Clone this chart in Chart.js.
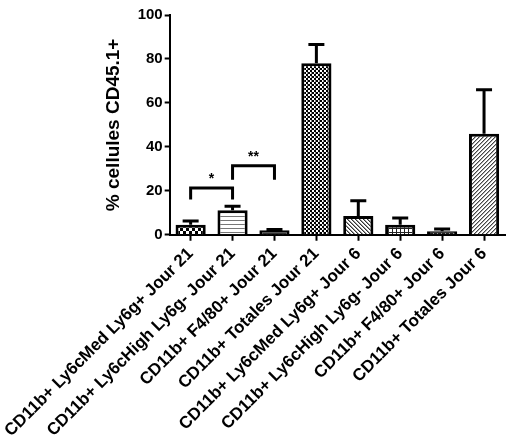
<!DOCTYPE html>
<html>
<head>
<meta charset="utf-8">
<script src="https://cdn.jsdelivr.net/npm/chart.js@4.4.0/dist/chart.umd.min.js"></script>
<style>
  html, body { margin: 0; padding: 0; background: #fff; }
  #wrap { width: 510px; height: 444px; }
</style>
</head>
<body>
<div id="wrap"><canvas id="chart" width="510" height="444"></canvas></div>
<script>
const labels = [
  'CD11b+ Ly6cMed Ly6g+ Jour 21',
  'CD11b+ Ly6cHigh Ly6g- Jour 21',
  'CD11b+ F4/80+ Jour 21',
  'CD11b+ Totales Jour 21',
  'CD11b+ Ly6cMed Ly6g+ Jour 6',
  'CD11b+ Ly6cHigh Ly6g- Jour 6',
  'CD11b+ F4/80+ Jour 6',
  'CD11b+ Totales Jour 6'
];
const means = [4.5, 11.2, 2.0, 78.0, 8.5, 4.6, 1.6, 46.0];
const errors = [1.8, 1.8, 0.4, 8.6, 7.0, 3.0, 1.0, 20.0];
const yTicks = [0, 20, 40, 60, 80, 100];

// significance brackets: from bar, to bar, text, top value, leg bottom value
const sigFrom = [0, 1];
const sigTo = [1, 2];
const sigText = ['*', '**'];
const sigTop = [21.3, 31.4];
const sigLeg = [16, 25];

const patternKinds = ['checker', 'hlines', 'dense', 'fineChecker', 'backDiag', 'grid', 'dark', 'fwdDiag'];

function makePattern(kind) {
  const c = document.createElement('canvas');
  const s = kind === 'checker' ? 6 : 4;
  c.width = s; c.height = s;
  const g = c.getContext('2d');
  g.fillStyle = '#fff';
  g.fillRect(0, 0, s, s);
  g.fillStyle = '#000';
  if (kind === 'checker') {
    g.fillRect(0, 0, 3, 3);
    g.fillRect(3, 3, 3, 3);
  } else if (kind === 'hlines') {
    g.fillStyle = '#777';
    g.fillRect(0, 0, 4, 1);
  } else if (kind === 'dense') {
    g.fillStyle = '#333';
    g.fillRect(0, 0, 4, 2);
    g.fillRect(0, 2, 2, 2);
  } else if (kind === 'fineChecker') {
    g.fillRect(0, 0, 2, 2);
    g.fillRect(2, 2, 2, 2);
    g.fillStyle = '#888';
    g.fillRect(3, 0, 1, 2);
  } else if (kind === 'backDiag') {
    g.fillStyle = '#333';
    for (let i = 0; i < 4; i++) g.fillRect(i, i, 1, 1);
    g.fillStyle = '#999';
    for (let i = 0; i < 4; i++) g.fillRect((i + 1) % 4, i, 1, 1);
  } else if (kind === 'grid') {
    g.fillStyle = '#222';
    g.fillRect(0, 0, 1, 4);
    g.fillRect(0, 0, 4, 1);
  } else if (kind === 'dark') {
    g.fillStyle = '#222';
    g.fillRect(0, 0, 4, 4);
    g.fillStyle = '#999';
    g.fillRect(1, 1, 1, 1);
  } else if (kind === 'fwdDiag') {
    g.fillStyle = '#444';
    for (let i = 0; i < 4; i++) g.fillRect(3 - i, i, 1, 1);
    g.fillStyle = '#aaa';
    for (let i = 0; i < 4; i++) g.fillRect((4 - i) % 4, i, 1, 1);
  }
  return g.createPattern(c, 'repeat');
}

const errorBarPlugin = {
  id: 'errorBars',
  afterDatasetsDraw(chart) {
    const ctx = chart.ctx;
    const x = chart.scales.x;
    const y = chart.scales.y;
    ctx.save();
    ctx.strokeStyle = '#000';
    ctx.lineWidth = 3;
    ctx.lineCap = 'butt';
    means.forEach((m, i) => {
      const px = x.getPixelForValue(i);
      const yb = y.getPixelForValue(m);
      const yt = y.getPixelForValue(m + errors[i]);
      ctx.beginPath();
      ctx.moveTo(px, yb);
      ctx.lineTo(px, yt);
      ctx.moveTo(px - 8, yt);
      ctx.lineTo(px + 8, yt);
      ctx.stroke();
    });
    // brackets
    ctx.lineWidth = 3;
    ctx.fillStyle = '#000';
    ctx.font = 'bold 14px "Liberation Sans", Arial, sans-serif';
    ctx.textAlign = 'center';
    ctx.textBaseline = 'bottom';
    sigFrom.forEach((f, k) => {
      const x1 = x.getPixelForValue(f);
      const x2 = x.getPixelForValue(sigTo[k]);
      const yt = y.getPixelForValue(sigTop[k]);
      const yl = y.getPixelForValue(sigLeg[k]);
      ctx.beginPath();
      ctx.moveTo(x1, yl);
      ctx.lineTo(x1, yt);
      ctx.lineTo(x2, yt);
      ctx.lineTo(x2, yl);
      ctx.stroke();
      ctx.fillText(sigText[k], (x1 + x2) / 2, yt - 2);
    });
    ctx.restore();
  }
};

const ctx = document.getElementById('chart').getContext('2d');
const fontFamily = '"Liberation Sans", Arial, sans-serif';

new Chart(ctx, {
  type: 'bar',
  data: {
    labels: labels,
    datasets: [{
      data: means,
      backgroundColor: patternKinds.map(makePattern),
      borderColor: '#000',
      borderWidth: 3,
      borderSkipped: 'bottom',
      barPercentage: 0.72,
      categoryPercentage: 1.0
    }]
  },
  options: {
    responsive: false,
    animation: false,
    layout: { padding: { top: 15, right: 5, left: 10, bottom: 0 } },
    plugins: { legend: { display: false }, tooltip: { enabled: false } },
    scales: {
      x: {
        offset: true,
        grid: { display: true, drawOnChartArea: false, offset: false, tickLength: 6, tickWidth: 2, tickColor: '#000' },
        border: { display: true, color: '#000', width: 2 },
        ticks: {
          color: '#000',
          maxRotation: 45,
          minRotation: 45,
          autoSkip: false,
          padding: 3,
          font: { family: fontFamily, size: 17, weight: 'bold' }
        }
      },
      y: {
        min: 0,
        max: 100,
        afterBuildTicks: (axis) => { axis.ticks = yTicks.map(v => ({ value: v })); },
        grid: { display: true, drawOnChartArea: false, tickLength: 5, tickWidth: 2, tickColor: '#000' },
        border: { display: true, color: '#000', width: 2 },
        ticks: {
          color: '#000',
          padding: 2,
          font: { family: fontFamily, size: 15, weight: 'bold' }
        },
        title: {
          display: true,
          text: '% cellules CD45.1+',
          color: '#000',
          padding: { top: 0, bottom: 10 },
          font: { family: fontFamily, size: 19, weight: 'bold' }
        }
      }
    }
  },
  plugins: [errorBarPlugin]
});
</script>
</body>
</html>
